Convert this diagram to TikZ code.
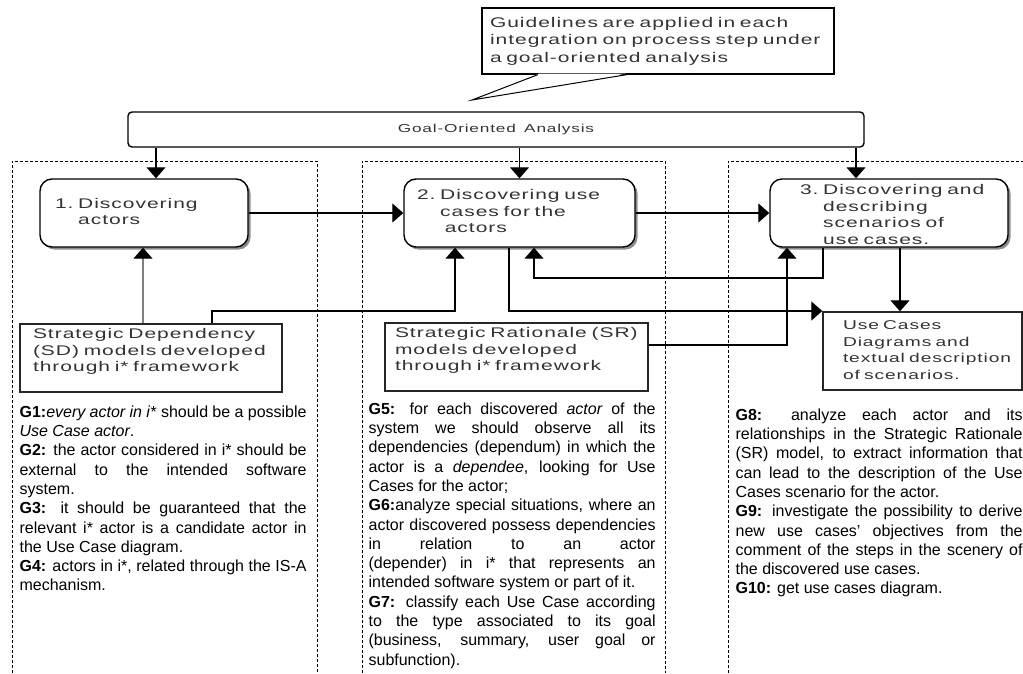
\documentclass[tikz,border=0pt]{standalone}
\usepackage{fontspec}
\setmainfont{Liberation Sans}
\newfontfamily\boxfont[FakeStretch=1.5,LetterSpace=7,WordSpace=1.5]{Liberation Sans}
\usetikzlibrary{arrows.meta,shadows}

\newlength{\colw}
\setlength{\colw}{287pt}
\newcommand{\jl}[1]{\makebox[\colw][s]{#1}}

\begin{document}
\begin{tikzpicture}[x=1pt,y=-1pt,line width=1.2pt,
    arr/.style={-{Triangle[width=19pt,length=11pt,color=black]}}]
  \tikzstyle{proc}=[draw=black,line width=1.4pt,rounded corners=12pt,fill=white,
      drop shadow={shadow xshift=2.5pt,shadow yshift=-2.5pt,fill=black!45,opacity=1},
      minimum height=68pt,inner xsep=15pt,inner ysep=0pt,align=left,
      font=\boxfont\fontsize{14}{16.5}\selectfont,text=black!80]
  \tikzstyle{model}=[draw=black!85,line width=1.4pt,fill=white,minimum height=68pt,
      inner xsep=13pt,align=left,font=\boxfont\fontsize{14}{16.5}\selectfont,text=black!80]
  \tikzstyle{guide}=[anchor=north west,inner sep=0pt,align=left,
      font=\fontsize{16}{19.3}\selectfont]
  \tikzstyle{column}=[line width=0.6pt,dash pattern=on 3pt off 2pt]
  \useasboundingbox (0,0) rectangle (1023,673);

  % dashed frames of the three steps
  \draw[column] (12,673) -- (12,161) -- (317,161) -- (317,673);
  \draw[column] (362,673) -- (362,161) -- (665,161) -- (665,673);
  \draw[column] (728,673) -- (728,161) -- (1023,161);

  % note and goal-oriented analysis
  \node[draw,line width=1.2pt,inner xsep=8pt,text width=336pt,minimum height=66pt,
      align=left,font=\boxfont\fontsize{14}{17.5}\selectfont,text=black!80] (note) at (658,41)
      {Guidelines are applied in each\\integration on process step under\\a goal-oriented analysis};
  \coordinate (tip) at (472,100);
  \fill[white] ([xshift=-119pt,yshift=1pt]note.south) -- (tip) -- ([xshift=-32pt,yshift=1pt]note.south) -- cycle;
  \draw[line width=1pt] ([xshift=-120pt]note.south) -- (tip) -- ([xshift=-31pt]note.south);
  \node[draw,line width=1.4pt,rounded corners=4pt,minimum width=736pt,minimum height=35pt,
      inner sep=0pt,font=\boxfont\fontsize{11.5}{14}\selectfont,text=black!80] (goal) at (496,129.5)
      {Goal-Oriented Analysis};

  % process steps
  \node[proc,text width=178pt] (p1) at (144,213)
      {\begin{tabular}{@{}l@{\ }l@{}}1.&Discovering\\&actors\end{tabular}};
  \node[proc,inner xsep=13pt,text width=205pt] (p2) at (519.5,213)
      {\begin{tabular}{@{}l@{\ }l@{}}2.&Discovering use\\&cases for the\\&\ actors\end{tabular}};
  \node[proc,inner xsep=30pt,text width=178pt] (p3) at (889,213)
      {\raisebox{-3pt}[\height][\depth]{\begin{tabular}{@{}l@{\ }l@{}}3.&Discovering and\\&describing\\&scenarios of\\&use cases.\end{tabular}}};

  % models and products
  \node[model,text width=236pt] (sd) at (151,358)
      {\begin{tabular}{@{}l@{}}Strategic Dependency\\(SD) models developed\\through i* framework\\[12pt]\end{tabular}};
  \node[model,inner xsep=10pt,text width=243pt] (sr) at (516.5,357)
      {\begin{tabular}{@{}l@{}}Strategic Rationale (SR)\\models developed\\through i* framework\\[12pt]\end{tabular}};
  \node[model,inner xsep=20pt,text width=159pt,minimum height=78pt,
      font=\boxfont\fontsize{12.8}{16.5}\selectfont] (uc) at (922.5,351)
      {\begin{tabular}{@{}l@{}}Use Cases\\Diagrams and\\textual description\\of scenarios.\end{tabular}};

  % connectors
  \coordinate (a1) at ([xshift=12pt]p1.north);
  \coordinate (a3) at ([xshift=-33pt]p3.north);
  \draw[arr] (a1 |- goal.south) -- (a1);
  \draw[arr] (p2.north |- goal.south) -- (p2.north);
  \draw[arr] (a3 |- goal.south) -- (a3);
  \draw[arr] (p1.east) -- (p2.west);
  \draw[arr] (p2.east) -- (p3.west);
  \coordinate (sdup) at ([xshift=-8pt]sd.north);
  \draw[arr,black!50] (sdup) -- (sdup |- p1.south);
  \coordinate (k1) at (455,311);
  \draw[arr] ([xshift=61pt]sd.north) |- (k1) -- (k1 |- p2.south);
  \coordinate (k2) at (509,311);
  \draw[arr] (k2 |- p2.south) -- (k2) -- (k2 -| uc.west);
  \coordinate (k3) at (534,278);
  \draw[arr] ([xshift=-66pt]p3.south) |- (k3) -- (k3 |- p2.south);
  \draw[arr] ([yshift=12pt]sr.east) -| ([xshift=-102pt]p3.south);
  \coordinate (a4) at ([xshift=11pt]p3.south);
  \draw[arr] (a4) -- (a4 |- uc.north);

  % guidelines
  \node[guide] (g14) at (19,405)
      {\jl{\textbf{G1:}\textit{every actor in i*} should be a possible}\\
       \textit{Use Case actor}.\\
       \jl{\textbf{G2:} the actor considered in i* should be}\\
       \jl{external to the intended software}\\
       system.\\
       \jl{\textbf{G3:} it should be guaranteed that the}\\
       \jl{relevant i* actor is a candidate actor in}\\
       the Use Case diagram.\\
       \jl{\textbf{G4:} actors in i*, related through the IS-A}\\
       mechanism.};
  \node[guide] (g57) at (368,402)
      {\jl{\textbf{G5:} for each discovered \textit{actor} of the}\\
       \jl{system we should observe all its}\\
       \jl{dependencies (dependum) in which the}\\
       \jl{actor is a \textit{dependee}, looking for Use}\\
       Cases for the actor;\\
       \jl{\textbf{G6:}analyze special situations, where an}\\
       \jl{actor discovered possess dependencies}\\
       \jl{in relation to an actor}\\
       \jl{(depender) in i* that represents an}\\
       intended software system or part of it.\\
       \jl{\textbf{G7:} classify each Use Case according}\\
       \jl{to the type associated to its goal}\\
       \jl{(business, summary, user goal or}\\
       subfunction).};
  \node[guide] (g810) at (735,408)
      {\jl{\textbf{G8:} analyze each actor and its}\\
       \jl{relationships in the Strategic Rationale}\\
       \jl{(SR) model, to extract information that}\\
       \jl{can lead to the description of the Use}\\
       Cases scenario for the actor.\\
       \jl{\textbf{G9:} investigate the possibility to derive}\\
       \jl{new use cases' objectives from the}\\
       \jl{comment of the steps in the scenery of}\\
       the discovered use cases.\\
       \textbf{G10:} get use cases diagram.};
\end{tikzpicture}
\end{document}
